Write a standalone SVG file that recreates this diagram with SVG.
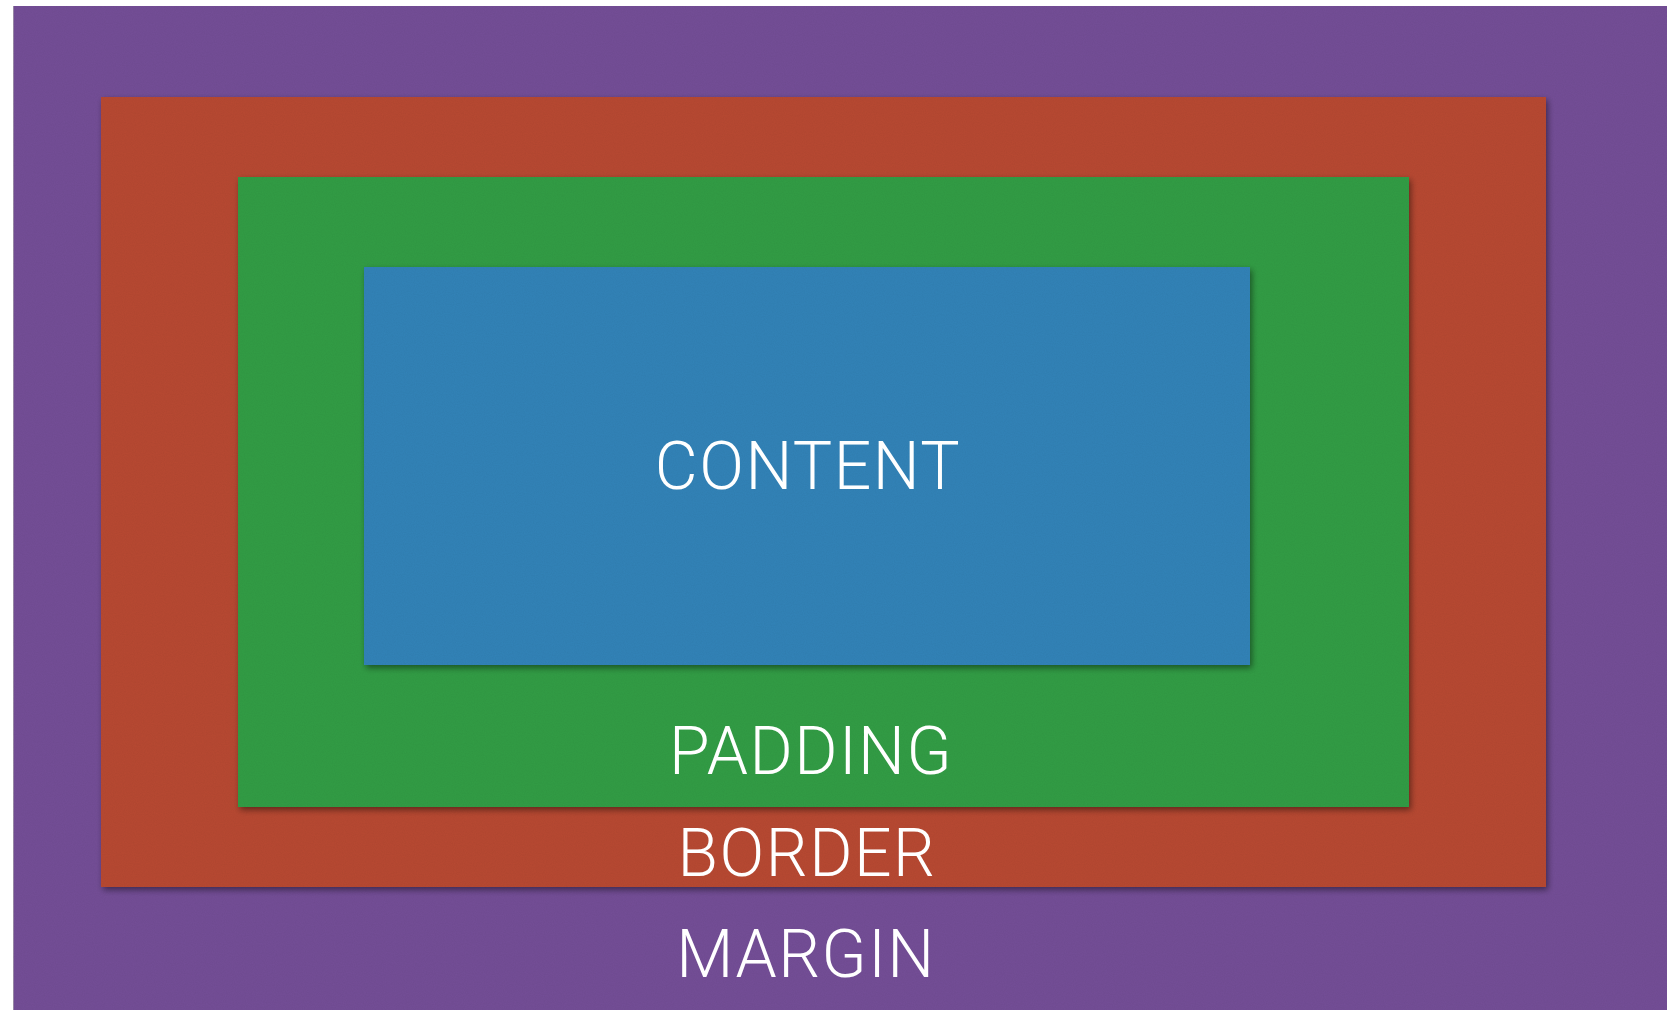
<svg xmlns="http://www.w3.org/2000/svg" width="1667" height="1010" viewBox="0 0 1667 1010">
  <style>
    .label { font-family: Roboto, "Liberation Sans", sans-serif; font-weight: 300; font-size: 66px; letter-spacing: 1.5px; fill: #ffffff; text-anchor: middle; }
  </style>
  <defs>
    <!-- soft drop shadow under each paper layer -->
    <filter id="shadow" x="-5%" y="-5%" width="110%" height="110%">
      <feGaussianBlur in="SourceAlpha" stdDeviation="3"/>
      <feOffset dx="2" dy="3" result="blur"/>
      <feComponentTransfer><feFuncA type="linear" slope="0.45"/></feComponentTransfer>
      <feMerge><feMergeNode/><feMergeNode in="SourceGraphic"/></feMerge>
    </filter>
    <!-- faint paper grain -->
    <filter id="grain" x="0" y="0" width="100%" height="100%">
      <feTurbulence type="fractalNoise" baseFrequency="0.9" numOctaves="2" seed="3"/>
      <feColorMatrix type="matrix" values="0 0 0 0 0  0 0 0 0 0  0 0 0 0 0  0 0 0 0.05 0"/>
    </filter>
  </defs>

  <rect x="0" y="0" width="1667" height="1010" fill="#ffffff"/>

  <g id="margin">
    <rect x="13" y="6" width="1654" height="1004" fill="#744e97"/>
    <line x1="13.5" y1="6" x2="13.5" y2="1010" stroke="#9a8aa8" stroke-width="1"/>
  </g>

  <g id="border">
    <rect x="101" y="97" width="1445" height="790" fill="#b84832" filter="url(#shadow)"/>
  </g>

  <g id="padding">
    <rect x="238" y="177" width="1171" height="630" fill="#309d44" filter="url(#shadow)"/>
  </g>

  <g id="content">
    <rect x="364" y="267" width="886" height="398" fill="#3183b8" filter="url(#shadow)"/>
  </g>

  <!-- paper grain over all layers -->
  <rect x="13" y="6" width="1654" height="1004" filter="url(#grain)"/>

  <g id="labels">
    <text class="label" x="808" y="489">CONTENT</text>
    <text class="label" x="811" y="774">PADDING</text>
    <text class="label" x="807" y="876">BORDER</text>
    <text class="label" x="806" y="977">MARGIN</text>
  </g>

  <g id="connectors"/>
</svg>
